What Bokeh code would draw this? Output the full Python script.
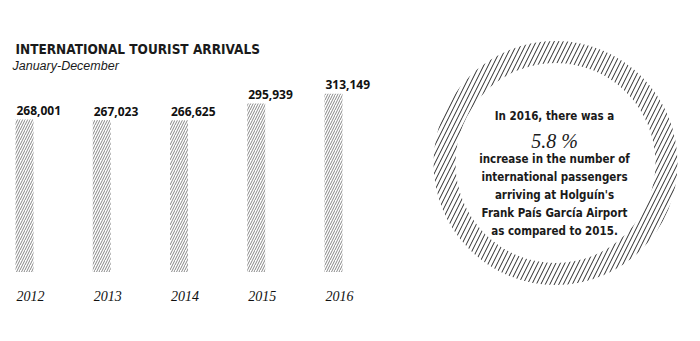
from bokeh.plotting import figure
from bokeh.models import Range1d, Label
from bokeh.core.properties import value
from bokeh.embed import file_html
from bokeh.resources import INLINE

# ---- data ----
years = ["2012", "2013", "2014", "2015", "2016"]
arrivals = [268001, 267023, 266625, 295939, 313149]
arrival_labels = ["268,001", "267,023", "266,625", "295,939", "313,149"]

title_text = "INTERNATIONAL TOURIST ARRIVALS"
subtitle_text = "January-December"
note_lines = ["In 2016, there was a", "5.8 %", "increase in the number of",
              "international passengers", "arriving at Holguín's",
              "Frank País García Airport", "as compared to 2015."]

COND = "DejaVu Sans Condensed"

# ---- layout constants (pixels) ----
W, H = 700, 341
first_center_px = 24.0
step_px = 77.25
bar_w_px = 18.0
base_px = 271.5              # baseline from top
px_per_unit = 152.5 / 268001.0

upu = 1.0 / px_per_unit
x_start = -first_center_px / step_px
x_end = x_start + W / step_px
y_start = -(H - base_px) * upu
y_end = base_px * upu

p = figure(width=W, height=H, output_backend="svg", toolbar_location=None,
           x_axis_type=None, y_axis_type=None, min_border=0,
           x_range=Range1d(x_start, x_end), y_range=Range1d(y_start, y_end),
           outline_line_color=None, background_fill_color="white",
           border_fill_color="white")
p.xgrid.visible = False
p.ygrid.visible = False

idx = list(range(len(years)))
bw = bar_w_px / step_px
lefts = [i - bw / 2 for i in idx]

p.vbar(x=idx, top=arrivals, bottom=0, width=bw, fill_alpha=0, line_color=None,
       hatch_pattern="/", hatch_color="#777777", hatch_scale=5, hatch_weight=0.9)

p.text(x=lefts, y=arrivals, text=arrival_labels, text_font=value("Open Sans"),
       text_font_style="bold", text_font_size="12px", text_color="#111111",
       text_align="left", text_baseline="alphabetic", x_offset=1, y_offset=-9)

p.text(x=lefts, y=[0] * len(years), text=years, text_font=value("Liberation Serif"),
       text_font_style="italic", text_font_size="14px", text_color="#111111",
       text_align="left", text_baseline="alphabetic", x_offset=1, y_offset=23.5)

# title / subtitle
p.add_layout(Label(x=15, y=H - 48, x_units="screen", y_units="screen", text=title_text,
                   text_font=COND, text_font_style="bold",
                   text_font_size="13.5px", text_color="#1a1a1a",
                   text_baseline="alphabetic"))
p.add_layout(Label(x=12, y=H - 65, x_units="screen", y_units="screen", text=subtitle_text,
                   text_font="Liberation Sans", text_font_style="italic",
                   text_font_size="12.5px", text_color="#1a1a1a",
                   text_baseline="alphabetic"))

# hatched ring
cx_px, cy_px = 555.0, 162.5
cx = x_start + cx_px / step_px
cy = y_start + (H - cy_px) * upu
p.annulus(x=[cx], y=[cy], inner_radius=100, outer_radius=122,
          inner_radius_units="screen", outer_radius_units="screen",
          fill_alpha=0, line_color=None, hatch_pattern="/", hatch_color="#2a2a2a",
          hatch_scale=9, hatch_weight=1.0)

# note text
baselines = [115.7, 140, 158, 176.5, 194, 212, 230]
for line, b in zip(note_lines, baselines):
    if line == "5.8 %":
        lab = Label(x=cx_px - 1, y=H - b, x_units="screen", y_units="screen", text=line,
                    text_font="Liberation Serif", text_font_style="italic",
                    text_font_size="20px", text_color="#1a1a1a",
                    text_align="center", text_baseline="alphabetic")
    else:
        lab = Label(x=cx_px - 1, y=H - b, x_units="screen", y_units="screen", text=line,
                    text_font=COND, text_font_style="bold",
                    text_font_size="11.5px", text_color="#1a1a1a",
                    text_align="center", text_baseline="alphabetic")
    p.add_layout(lab)

open("out.html", "w").write(file_html(p, INLINE))
